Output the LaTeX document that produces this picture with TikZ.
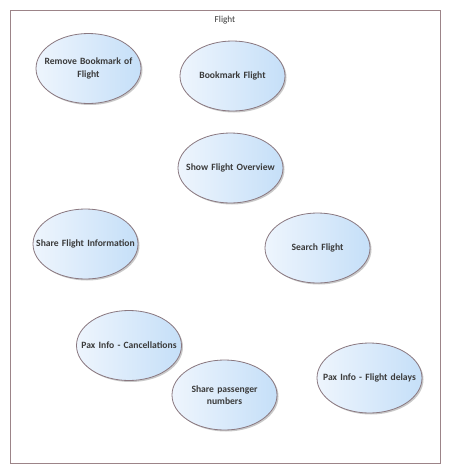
\documentclass[tikz,border=0pt]{standalone}
\usepackage{fontspec}
\setmainfont{Carlito}
\usetikzlibrary{shapes.geometric,shadows}
\definecolor{ucborder}{HTML}{8A7880}
\definecolor{ucleft}{HTML}{EEF5FD}
\definecolor{ucright}{HTML}{C5DFF8}
\definecolor{frameborder}{HTML}{9C8488}
\definecolor{uctext}{HTML}{3A3A3A}
\tikzset{
  usecase/.style={ellipse, draw=ucborder, line width=0.8pt, minimum width=105pt, minimum height=70pt,
    left color=ucleft, right color=ucright, inner ysep=0pt, inner xsep=-13pt,
    drop shadow={opacity=0.35, shadow xshift=1.5pt, shadow yshift=-1.5pt, fill=black!60},
    font=\fontsize{9.6pt}{12.5pt}\selectfont\bfseries, text=uctext, align=center, text width=100pt},
  framebox/.style={draw=frameborder, line width=0.8pt, fill=white},
}
\begin{document}
\begin{tikzpicture}[x=1pt,y=-1pt]
\useasboundingbox (0,0) rectangle (451,474);
\node[framebox, minimum width=430pt, minimum height=453pt, anchor=north west, inner sep=0pt] (frame) at (10,10) {};
\node[font=\fontsize{9.2pt}{11pt}\selectfont, text=uctext] (title) at (225,20) {Flight};
\node[usecase] (rb) at (88.5,68.5) {Remove Bookmark of\\Flight};
\node[usecase] (bf) at (232.5,76) {Bookmark Flight};
\node[usecase] (sfo) at (230.5,168) {Show Flight Overview};
\node[usecase] (sfi) at (85.5,244) {Share Flight Information};
\node[usecase] (sf) at (317.5,248) {Search Flight};
\node[usecase] (pic) at (129,345.5) {Pax Info - Cancellations};
\node[usecase] (spn) at (224.5,395) {Share passenger\\numbers};
\node[usecase] (pid) at (369.5,378) {Pax Info - Flight delays};
\end{tikzpicture}
\end{document}
